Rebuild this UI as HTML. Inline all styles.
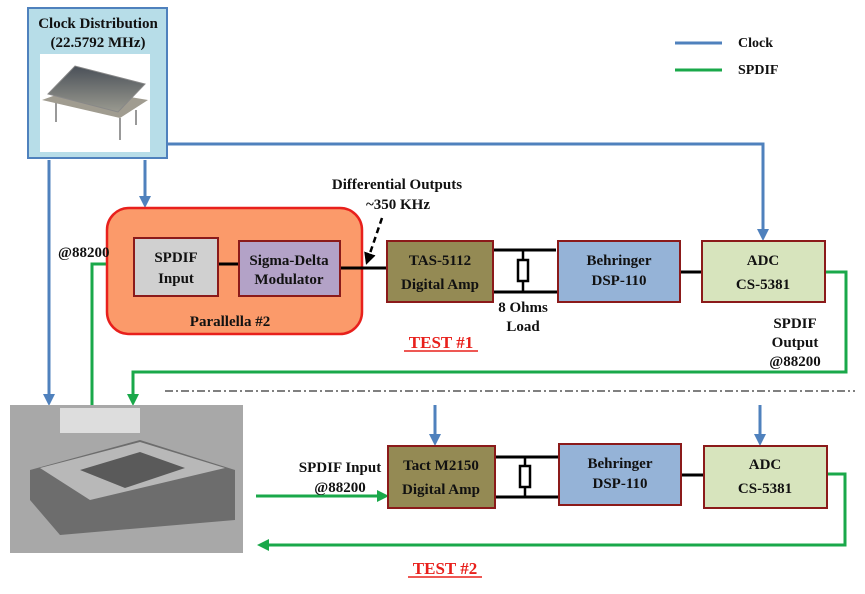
<!DOCTYPE html>
<html><head><meta charset="utf-8"><style>
body{margin:0;background:#fff}
svg text{font-family:"Liberation Serif",serif;font-weight:bold;fill:#111}
</style></head><body>
<svg width="865" height="589" viewBox="0 0 865 589" xmlns="http://www.w3.org/2000/svg">
<defs>
<marker id="ab" markerWidth="12" markerHeight="12" refX="9" refY="6" orient="auto" markerUnits="userSpaceOnUse"><path d="M0,0 L12,6 L0,12 z" fill="#4f81bd"/></marker>
<marker id="ag" markerWidth="12" markerHeight="12" refX="9" refY="6" orient="auto" markerUnits="userSpaceOnUse"><path d="M0,0 L12,6 L0,12 z" fill="#1aa84a"/></marker>
<marker id="ak" markerWidth="12" markerHeight="12" refX="9" refY="6" orient="auto" markerUnits="userSpaceOnUse"><path d="M0,0 L12,6 L0,12 z" fill="#000"/></marker>
<linearGradient id="osc" x1="0" y1="0" x2="0" y2="1"><stop offset="0" stop-color="#4a5058"/><stop offset="1" stop-color="#9a9a90"/></linearGradient>
</defs>
<line x1="675" y1="43" x2="722" y2="43" stroke="#4f81bd" stroke-width="3"/>
<text x="738" y="47" font-size="14">Clock</text>
<line x1="675" y1="70" x2="722" y2="70" stroke="#1aa84a" stroke-width="3"/>
<text x="738" y="74" font-size="14">SPDIF</text>
<polyline points="167,144 763,144 763,238" fill="none" stroke="#4f81bd" stroke-width="3" marker-end="url(#ab)"/>
<line x1="145" y1="160" x2="145" y2="205" stroke="#4f81bd" stroke-width="3" marker-end="url(#ab)"/>
<line x1="49" y1="160" x2="49" y2="403" stroke="#4f81bd" stroke-width="3" marker-end="url(#ab)"/>
<line x1="435" y1="405" x2="435" y2="443" stroke="#4f81bd" stroke-width="3" marker-end="url(#ab)"/>
<line x1="760" y1="405" x2="760" y2="443" stroke="#4f81bd" stroke-width="3" marker-end="url(#ab)"/>
<rect x="28" y="8" width="139" height="150" fill="#b7dde8" stroke="#4f81bd" stroke-width="2"/>
<text x="98" y="28" font-size="15" text-anchor="middle">Clock Distribution</text>
<text x="98" y="47" font-size="15" text-anchor="middle">(22.5792 MHz)</text>
<rect x="40" y="54" width="110" height="98" fill="#fff"/>
<line x1="56" y1="100" x2="56" y2="122" stroke="#777" stroke-width="1.5"/>
<line x1="120" y1="140" x2="120" y2="118" stroke="#777" stroke-width="1.5"/>
<line x1="136" y1="125" x2="136" y2="110" stroke="#777" stroke-width="1.5"/>
<path d="M42,100 L75,88 L148,100 L120,118 Z" fill="#a09c90"/>
<path d="M48,94 L75,66 L145,84 L118,112 Z" fill="url(#osc)" stroke="#888"/>
<polyline points="825,272 846,272 846,372 133,372 133,403" fill="none" stroke="#1aa84a" stroke-width="3" marker-end="url(#ag)"/>
<polyline points="92,405 92,264 132,264" fill="none" stroke="#1aa84a" stroke-width="3" marker-end="url(#ag)"/>
<line x1="256" y1="496" x2="386" y2="496" stroke="#1aa84a" stroke-width="3" marker-end="url(#ag)"/>
<polyline points="827,474 845,474 845,545 260,545" fill="none" stroke="#1aa84a" stroke-width="3" marker-end="url(#ag)"/>
<rect x="107" y="208" width="255" height="126" rx="22" fill="#fb9a6a" stroke="#e8201c" stroke-width="2.5"/>
<text x="230" y="326" font-size="15" text-anchor="middle">Parallella #2</text>
<text x="58" y="257" font-size="15">@88200</text>
<line x1="218" y1="264" x2="239" y2="264" stroke="#000" stroke-width="3"/>
<line x1="340" y1="268" x2="388" y2="268" stroke="#000" stroke-width="3"/>
<rect x="134" y="238" width="84" height="58" fill="#d0d0d0" stroke="#8b1a1a" stroke-width="2"/>
<text x="176" y="262" font-size="15" text-anchor="middle">SPDIF</text>
<text x="176" y="283" font-size="15" text-anchor="middle">Input</text>
<rect x="239" y="241" width="101" height="55" fill="#b3a2c7" stroke="#8b1a1a" stroke-width="2"/>
<text x="289" y="265" font-size="15" text-anchor="middle">Sigma-Delta</text>
<text x="289" y="284" font-size="15" text-anchor="middle">Modulator</text>
<text x="397" y="189" font-size="15" text-anchor="middle">Differential Outputs</text>
<text x="398" y="209" font-size="15" text-anchor="middle">~350 KHz</text>
<line x1="382" y1="218" x2="367" y2="262" stroke="#000" stroke-width="2.5" stroke-dasharray="6,4" marker-end="url(#ak)"/>
<polyline points="493,250 556,250" stroke="#000" stroke-width="3"/>
<polyline points="494,292 558,292" stroke="#000" stroke-width="3"/>
<line x1="523" y1="250" x2="523" y2="292" stroke="#000" stroke-width="2.5"/>
<rect x="518" y="260" width="10" height="21" fill="#fff" stroke="#000" stroke-width="2.5"/>
<line x1="680" y1="272" x2="702" y2="272" stroke="#000" stroke-width="3"/>
<rect x="387" y="241" width="106" height="61" fill="#948a54" stroke="#8b1a1a" stroke-width="2"/>
<text x="440" y="265" font-size="15" text-anchor="middle">TAS-5112</text>
<text x="440" y="289" font-size="15" text-anchor="middle">Digital Amp</text>
<rect x="558" y="241" width="122" height="61" fill="#95b3d7" stroke="#8b1a1a" stroke-width="2"/>
<text x="619" y="265" font-size="15" text-anchor="middle">Behringer</text>
<text x="619" y="285" font-size="15" text-anchor="middle">DSP-110</text>
<rect x="702" y="241" width="123" height="61" fill="#d7e4bd" stroke="#8b1a1a" stroke-width="2"/>
<text x="763" y="265" font-size="15" text-anchor="middle">ADC</text>
<text x="763" y="289" font-size="15" text-anchor="middle">CS-5381</text>
<text x="523" y="312" font-size="15" text-anchor="middle">8 Ohms</text>
<text x="523" y="331" font-size="15" text-anchor="middle">Load</text>
<text x="795" y="328" font-size="15" text-anchor="middle">SPDIF</text>
<text x="795" y="347" font-size="15" text-anchor="middle">Output</text>
<text x="795" y="366" font-size="15" text-anchor="middle">@88200</text>
<text x="441" y="348" font-size="17" text-anchor="middle" style="fill:#e8201c">TEST #1</text>
<line x1="404" y1="351" x2="478" y2="351" stroke="#e8201c" stroke-width="1.5"/>
<line x1="165" y1="391" x2="855" y2="391" stroke="#000" stroke-width="1" stroke-dasharray="8,3,2,3"/>
<rect x="10" y="405" width="233" height="148" fill="#a8a8a8"/>
<path d="M30,470 L140,440 L235,470 L235,520 L60,535 L30,500 Z" fill="#6d6d6d"/>
<path d="M40,468 L140,442 L225,468 L90,500 Z" fill="#b8b8b8"/>
<path d="M80,470 L140,452 L185,468 L125,488 Z" fill="#5a5a5a"/>
<rect x="60" y="408" width="80" height="25" fill="#ddd"/>
<polyline points="495,457 559,457" stroke="#000" stroke-width="3"/>
<polyline points="495,497 561,497" stroke="#000" stroke-width="3"/>
<line x1="525" y1="457" x2="525" y2="497" stroke="#000" stroke-width="2.5"/>
<rect x="520" y="466" width="10" height="21" fill="#fff" stroke="#000" stroke-width="2.5"/>
<line x1="681" y1="475" x2="704" y2="475" stroke="#000" stroke-width="3"/>
<rect x="388" y="446" width="107" height="62" fill="#948a54" stroke="#8b1a1a" stroke-width="2"/>
<text x="441" y="470" font-size="15" text-anchor="middle">Tact M2150</text>
<text x="441" y="494" font-size="15" text-anchor="middle">Digital Amp</text>
<rect x="559" y="444" width="122" height="61" fill="#95b3d7" stroke="#8b1a1a" stroke-width="2"/>
<text x="620" y="468" font-size="15" text-anchor="middle">Behringer</text>
<text x="620" y="488" font-size="15" text-anchor="middle">DSP-110</text>
<rect x="704" y="446" width="123" height="62" fill="#d7e4bd" stroke="#8b1a1a" stroke-width="2"/>
<text x="765" y="469" font-size="15" text-anchor="middle">ADC</text>
<text x="765" y="493" font-size="15" text-anchor="middle">CS-5381</text>
<text x="340" y="472" font-size="15" text-anchor="middle">SPDIF Input</text>
<text x="340" y="492" font-size="15" text-anchor="middle">@88200</text>
<text x="445" y="574" font-size="17" text-anchor="middle" style="fill:#e8201c">TEST #2</text>
<line x1="408" y1="577" x2="482" y2="577" stroke="#e8201c" stroke-width="1.5"/>
</svg>
</body></html>
